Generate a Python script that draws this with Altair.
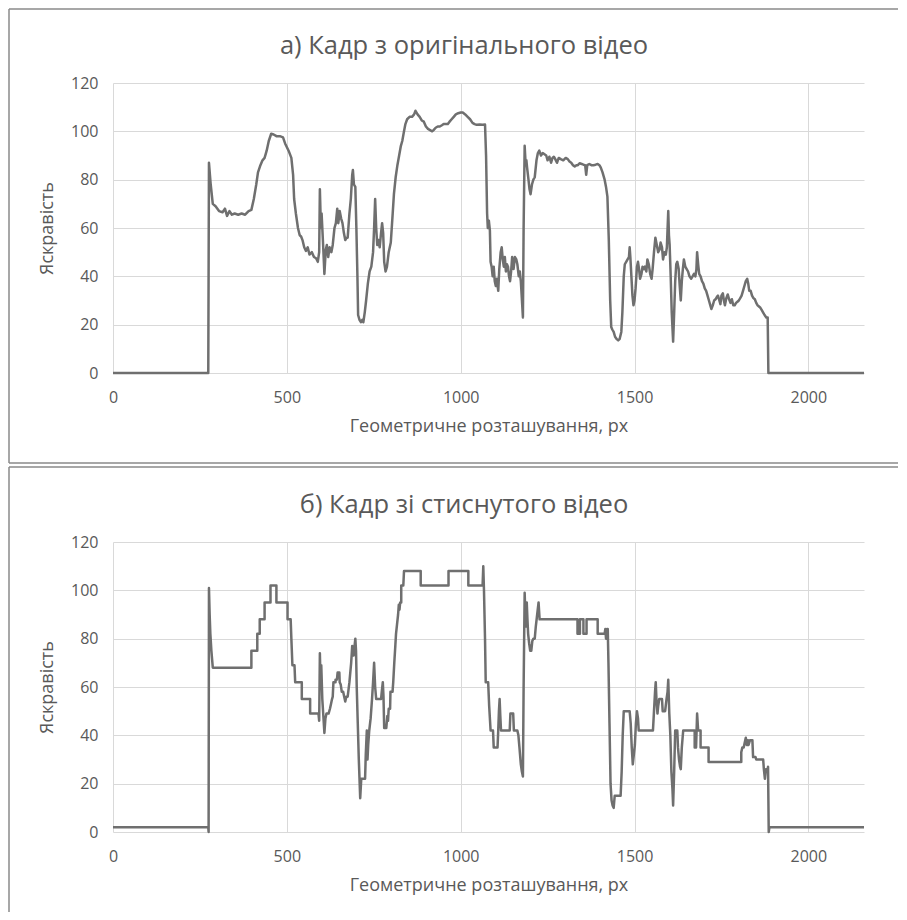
import altair as alt
import pandas as pd

# --- data: panel а) original frame (position px, brightness) ---
xa = [0, 274, 276, 281, 287, 295, 305, 315, 322, 328, 335, 342, 350, 360, 370, 380, 390, 398,
      405, 412, 417, 424, 430, 436, 442, 448, 455, 462, 470, 480, 489, 495, 505, 513, 518, 521,
      526, 532, 537, 541, 545, 550, 555, 560, 565, 572, 578, 584, 589, 593, 595, 598, 600, 604,
      608, 612, 615, 619, 623, 628, 632, 637, 641, 645, 648, 652, 656, 660, 664, 668, 672, 675,
      680, 684, 688, 690, 693, 697, 700, 703, 705, 709, 713, 717, 720, 724, 728, 733, 738, 743,
      748, 751, 754, 757, 760, 763, 767, 771, 774, 777, 780, 784, 788, 793, 799, 804, 808, 813,
      818, 823, 828, 832, 837, 841, 846, 853, 860, 866, 870, 876, 882, 888, 894, 900, 906, 912,
      918, 922, 928, 934, 940, 946, 951, 957, 963, 968, 974, 980, 986, 993, 1000, 1006, 1013,
      1020, 1027, 1034, 1040, 1046, 1055, 1063, 1070, 1073, 1076, 1078, 1081, 1084, 1086, 1089,
      1092, 1095, 1098, 1101, 1104, 1108, 1111, 1115, 1118, 1121, 1124, 1127, 1130, 1133, 1136,
      1139, 1142, 1145, 1148, 1152, 1156, 1160, 1163, 1167, 1170, 1173, 1177, 1179, 1181, 1184,
      1187, 1189, 1191, 1195, 1198, 1201, 1205, 1209, 1213, 1218, 1222, 1226, 1231, 1236, 1241,
      1246, 1250, 1255, 1260, 1264, 1268, 1272, 1277, 1282, 1288, 1295, 1302, 1308, 1313, 1318,
      1323, 1328, 1333, 1337, 1342, 1348, 1353, 1358, 1361, 1364, 1370, 1376, 1382, 1388, 1394,
      1399, 1403, 1408, 1414, 1418, 1422, 1426, 1430, 1433, 1436, 1440, 1444, 1449, 1453, 1457,
      1462, 1465, 1469, 1472, 1476, 1480, 1484, 1486, 1488, 1491, 1494, 1497, 1500, 1503, 1507,
      1510, 1513, 1516, 1520, 1523, 1527, 1530, 1534, 1537, 1541, 1545, 1549, 1552, 1556, 1560,
      1564, 1568, 1572, 1575, 1579, 1582, 1586, 1590, 1593, 1597, 1599, 1601, 1604, 1607, 1611,
      1614, 1617, 1620, 1623, 1627, 1630, 1633, 1636, 1639, 1642, 1646, 1650, 1654, 1658, 1663,
      1667, 1671, 1675, 1678, 1680, 1683, 1686, 1690, 1694, 1698, 1702, 1706, 1710, 1714, 1718,
      1721, 1725, 1729, 1733, 1737, 1740, 1744, 1747, 1750, 1754, 1757, 1760, 1764, 1768, 1772,
      1776, 1780, 1784, 1788, 1792, 1796, 1800, 1804, 1808, 1812, 1816, 1820, 1824, 1827, 1830,
      1834, 1838, 1842, 1846, 1850, 1854, 1858, 1862, 1866, 1870, 1874, 1879, 1883, 1885, 2160]
ya = [0, 0, 87, 78, 70, 69, 67, 66.5, 68, 65, 67, 65.5, 66, 65.5, 66, 65.5, 67, 67.5,
      72, 78, 83, 86, 88, 89, 92, 96, 99, 98.7, 98, 98, 97.5, 95, 92, 89, 82, 72,
      66, 60, 57, 56.5, 55, 52, 50.5, 52, 49, 50, 48, 47.5, 46, 50, 76, 60, 66, 54,
      41, 51, 53, 48, 52, 50, 53, 60, 62, 68, 62, 67, 64, 62, 58, 55, 56, 56,
      66, 72, 82, 84, 78, 77, 60, 40, 24, 22, 21, 22, 21, 25, 30, 37, 42, 44,
      50, 60, 72, 60, 53, 55, 52, 58, 62, 58, 46, 42, 44, 50, 54, 65, 74, 81,
      86, 90, 94, 96, 100, 103, 105, 106, 106, 107, 108.5, 107, 106, 104.5, 104, 102, 101, 100.5,
      100, 100.5, 101.5, 102, 102, 102.5, 103, 103, 103, 104, 105, 106, 107, 107.5, 107.8, 107.8, 107,
      106, 105, 103.5, 103, 102.7, 102.8, 102.7, 102.8, 90, 66, 60, 63, 59, 46, 44,
      40, 44, 38, 36, 39, 34, 43, 50, 52, 47, 44, 48, 42, 45, 44,
      40, 38, 42, 48, 43, 48, 47, 45, 40, 42, 38, 28, 23, 60, 94,
      86, 88, 85, 80, 76, 74, 78, 80, 81, 88, 91, 92, 90, 91, 90.5,
      90, 88, 89.5, 87, 89, 89.5, 88.5, 87, 89, 88.5, 88, 89, 88.5, 87.5, 87,
      86, 85.5, 86, 86, 86.8, 86.5, 86.2, 86, 82, 86, 86.5, 86, 86, 86.2, 86.5,
      86, 85, 83, 80, 77, 73, 55, 30, 19, 18, 17, 15, 14, 13.5, 14,
      17, 25, 40, 45, 46, 47, 48, 52, 48, 40, 32, 28, 30, 35, 44,
      46, 43, 39, 41, 44, 43, 44, 42, 47, 45, 41, 39, 43, 50, 56,
      53, 50, 51, 54, 52, 47, 50, 49, 52, 67, 57, 53, 40, 25, 13,
      25, 38, 45, 46, 43, 36, 30, 38, 43, 47, 44, 43, 42, 40, 39,
      40, 41, 40, 43, 50, 45, 41, 40, 38, 37, 35, 34, 32, 30, 28,
      26.5, 28, 30, 30.5, 31.5, 32, 30, 28.5, 32, 33, 30, 28, 31, 32.5, 30.5,
      29, 30.5, 28, 28, 29, 29.5, 30, 31, 32, 34, 36, 38, 39, 37, 34,
      34, 32, 31, 30.5, 29, 28, 27.5, 27, 26, 25, 24, 23, 23, 0, 0]

# --- data: panel б) compressed frame ---
xb = [0, 274, 275, 276, 278, 280, 283, 287, 398, 398, 415, 415, 422, 422, 436, 436, 453, 453,
      470, 470, 502, 502, 511, 513, 516, 522, 524, 543, 543, 567, 567, 591, 593, 595, 597, 599,
      602, 605, 608, 611, 614, 620, 624, 627, 630, 632, 634, 640, 640, 644, 646, 651, 652, 655,
      658, 662, 665, 668, 671, 675, 680, 685, 688, 690, 692, 694, 697, 699, 701, 704, 707, 711,
      714, 725, 727, 730, 732, 734, 737, 741, 745, 748, 751, 754, 757, 771, 773, 776, 778, 780,
      786, 789, 791, 793, 797, 798, 804, 806, 809, 812, 814, 817, 820, 822, 824, 826, 829, 829,
      835, 837, 885, 885, 965, 965, 1022, 1022, 1063, 1065, 1067, 1070, 1072, 1079, 1082, 1086,
      1093, 1095, 1106, 1108, 1110, 1112, 1114, 1116, 1141, 1143, 1151, 1153, 1163, 1166, 1169,
      1173, 1176, 1179, 1181, 1184, 1186, 1188, 1190, 1192, 1194, 1197, 1200, 1203, 1206, 1209,
      1213, 1216, 1220, 1224, 1227, 1336, 1336, 1343, 1343, 1353, 1353, 1362, 1362, 1394, 1394,
      1414, 1416, 1418, 1421, 1423, 1425, 1428, 1431, 1434, 1437, 1440, 1443, 1460, 1463, 1466,
      1469, 1486, 1489, 1492, 1495, 1498, 1501, 1504, 1507, 1510, 1512, 1553, 1556, 1559, 1561,
      1563, 1566, 1568, 1571, 1579, 1581, 1588, 1592, 1595, 1597, 1600, 1603, 1606, 1609, 1611,
      1614, 1617, 1623, 1625, 1628, 1631, 1633, 1636, 1640, 1673, 1673, 1677, 1680, 1683, 1690,
      1690, 1713, 1713, 1807, 1807, 1810, 1814, 1817, 1820, 1823, 1826, 1828, 1832, 1839, 1841,
      1848, 1850, 1870, 1872, 1875, 1878, 1883, 1884, 1886, 1888, 2160]
yb = [2, 2, 0, 101, 90, 82, 75, 68, 68, 75, 75, 82, 82, 88, 88, 95, 95, 102,
      102, 95, 95, 88, 88, 80, 69, 69, 62, 62, 55, 55, 49, 49, 46, 74, 62, 69,
      55, 48, 41, 47, 49, 49, 51, 53, 55, 56, 62, 62, 63, 63, 66, 66, 62, 61,
      58, 58, 56, 54, 56, 56, 62, 70, 77, 73, 73, 76, 80, 75, 60, 45, 30, 14,
      22, 22, 32, 42, 30, 36, 42, 47, 55, 62, 70, 60, 55, 55, 58, 62, 56, 43,
      43, 48, 46, 51, 51, 58, 58, 62, 70, 77, 82, 86, 90, 94, 92, 95, 95, 102,
      102, 108, 108, 102, 102, 108, 108, 102, 102, 110, 100, 80, 62, 62, 52, 42,
      42, 35, 35, 42, 50, 55, 48, 42, 42, 49, 49, 42, 42, 40, 35,
      28, 25, 23, 60, 99, 90, 85, 95, 88, 82, 78, 75, 75, 79, 80,
      80, 85, 90, 95, 88, 88, 82, 82, 88, 88, 82, 82, 88, 88, 82,
      82, 84, 80, 84, 84, 70, 45, 20, 13, 11, 10, 15, 15, 25, 40,
      50, 50, 45, 35, 28, 32, 36, 45, 50, 47, 42, 42, 50, 58, 62,
      55, 49, 52, 55, 55, 50, 50, 55, 58, 63, 49, 40, 25, 18, 11,
      25, 42, 42, 35, 30, 27, 26, 35, 42, 42, 35, 35, 49, 42, 42,
      35, 35, 29, 29, 33, 35, 35, 37, 39, 36, 38, 36, 38, 38, 31,
      31, 30, 30, 26, 22, 26, 26, 27, 0, 2, 2]

titles = ["а) Кадр з оригінального відео", "б) Кадр зі стиснутого відео"]
x_title = "Геометричне розташування, px"
y_title = "Яскравість"
x_ticks = [0, 500, 1000, 1500, 2000]
y_ticks = [0, 20, 40, 60, 80, 100, 120]

FONT = "Open Sans"
TXT = "#595959"
GRID = "#d9d9d9"
LINE = "#6f6f6f"
BORDER = "#8a8a8a"
W, H = 751, 290


def panel(xs, ys, title, top_off, bottom_end, bottom_line):
    df = pd.DataFrame({"x": xs, "y": ys})
    line = alt.Chart(df).mark_line(color=LINE, strokeWidth=2.5, strokeJoin="round").encode(
        x=alt.X("x:Q", scale=alt.Scale(domain=[0, 2160], nice=False),
                axis=alt.Axis(values=x_ticks, title=x_title, grid=True, ticks=False, tickSize=0,
                              domain=False, labelFlush=False, labelPadding=16, titlePadding=12,
                              format="d")),
        y=alt.Y("y:Q", scale=alt.Scale(domain=[0, 120], nice=False),
                axis=alt.Axis(values=y_ticks, title=y_title, grid=True, ticks=False, tickSize=0,
                              domain=False, labelPadding=15, titlePadding=14)),
        order=alt.Order("idx:Q"),
    ).transform_window(idx="row_number()")
    one = alt.Chart(pd.DataFrame({"k": [0]}))
    layers = [
        one.mark_rule(color=BORDER, strokeWidth=1.5).encode(
            x=alt.value(-104), x2=alt.value(785), y=alt.value(top_off)),
        one.mark_rule(color=BORDER, strokeWidth=1.5).encode(
            x=alt.value(-104), y=alt.value(top_off), y2=alt.value(bottom_end)),
        one.mark_text(font=FONT, fontSize=25.5, color=TXT, align="center",
                      baseline="alphabetic").encode(
            x=alt.value(351), y=alt.value(-29), text=alt.value(title)),
    ]
    if bottom_line:
        layers.append(one.mark_rule(color=BORDER, strokeWidth=1.5).encode(
            x=alt.value(-104), x2=alt.value(785), y=alt.value(bottom_end)))
    return alt.layer(*layers, line).properties(width=W, height=H)


top = panel(xa, ya, titles[0], -74, 380, True)
bottom = panel(xb, yb, titles[1], -75, 370, False)

chart = alt.vconcat(top, bottom, spacing=2).properties(padding=0).configure_view(
    strokeWidth=0
).configure_axis(
    gridColor=GRID, gridWidth=1, labelColor=TXT, titleColor=TXT, labelFont=FONT,
    titleFont=FONT, labelFontSize=16, titleFontSize=18, titleFontWeight="normal"
)

chart.save("out.html", embed_options={"renderer": "svg", "actions": False})
